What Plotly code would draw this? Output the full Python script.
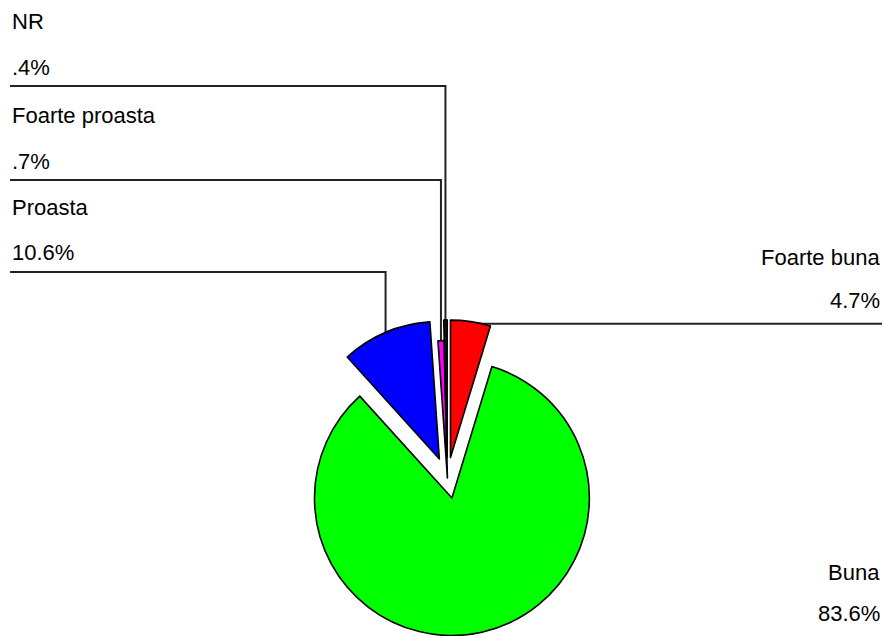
import numpy as np
import plotly.graph_objects as go

# ---- data ----
labels = ["Foarte buna", "Buna", "Proasta", "Foarte proasta", "NR"]
values = [4.7, 83.6, 10.6, 0.7, 0.4]
pct_text = ["4.7%", "83.6%", "10.6%", ".7%", ".4%"]
colors = ["#ff0000", "#00ff00", "#0000ff", "#ff00ff", "#0c1818"]
pulls = [0.15, 0.15, 0.15, 0.0, 0.15]

# ---- layout constants ----
W, H = 886, 636
dom_x = [0.29, 0.72]
dom_y = [0.0, 0.497]
FONT = dict(family="Arial, Liberation Sans, sans-serif", size=22, color="black")

fig = go.Figure(go.Pie(
    labels=labels, values=values, sort=False, direction="clockwise", rotation=0,
    marker=dict(colors=colors, line=dict(color="black", width=1.6)),
    pull=pulls, textinfo="none", showlegend=False,
    domain=dict(x=dom_x, y=dom_y),
))

# pie geometry (same rule plotly uses: r = min(box)/(2+2*maxPull))
box_w = W * (dom_x[1] - dom_x[0])
box_h = H * (dom_y[1] - dom_y[0])
r = min(box_w, box_h) / (2 + 2 * max(pulls))
cx = W * (dom_x[0] + dom_x[1]) / 2
cy = H * (1 - dom_y[0]) - box_h / 2
total = sum(values)
cum = np.cumsum([0] + values[:-1])
anchors = []
for v, c0, p in zip(values, cum, pulls):
    th = np.deg2rad(360 * (c0 + v / 2) / total)
    R = r * (1 + p)
    anchors.append((cx + R * np.sin(th), cy - R * np.cos(th)))

def px(x):
    return x / W

def py(y):
    return 1 - y / H

shapes = []
annotations = []
LINE = dict(color="#222222", width=2)

# left-side stacked labels: (index, name y, pct y, leader y)
left = [(4, 22, 68, 86), (3, 115, 161, 180), (2, 207, 252, 272)]
for i, yn, yp, yl in left:
    ax, ay = anchors[i]
    annotations.append(dict(x=px(10), y=py(yn), text=labels[i], xanchor="left", yanchor="middle",
                            showarrow=False, font=FONT, xref="paper", yref="paper"))
    annotations.append(dict(x=px(10), y=py(yp), text=pct_text[i], xanchor="left", yanchor="middle",
                            showarrow=False, font=FONT, xref="paper", yref="paper"))
    shapes.append(dict(type="path", xref="paper", yref="paper", line=LINE, layer="below",
                       path=f"M {px(10)},{py(yl)} L {px(ax)},{py(yl)} L {px(ax)},{py(ay)}"))

# right side: Foarte buna with leader, Buna without
ax, ay = anchors[0]
annotations.append(dict(x=px(882), y=py(257), text=labels[0], xanchor="right", yanchor="middle",
                        showarrow=False, font=FONT, xref="paper", yref="paper"))
annotations.append(dict(x=px(882), y=py(300), text=pct_text[0], xanchor="right", yanchor="middle",
                        showarrow=False, font=FONT, xref="paper", yref="paper"))
shapes.append(dict(type="line", xref="paper", yref="paper", line=LINE, layer="below",
                   x0=px(ax), y0=py(ay + 2), x1=px(882), y1=py(ay + 2)))
annotations.append(dict(x=px(882), y=py(572), text=labels[1], xanchor="right", yanchor="middle",
                        showarrow=False, font=FONT, xref="paper", yref="paper"))
annotations.append(dict(x=px(882), y=py(613), text=pct_text[1], xanchor="right", yanchor="middle",
                        showarrow=False, font=FONT, xref="paper", yref="paper"))

fig.update_layout(
    width=W, height=H, margin=dict(l=0, r=0, t=0, b=0),
    paper_bgcolor="white", plot_bgcolor="white",
    shapes=shapes, annotations=annotations,
)
fig.write_html("out.html", config={"displayModeBar": False},
               post_script="document.body.style.margin='0px';document.body.style.overflow='hidden';")
